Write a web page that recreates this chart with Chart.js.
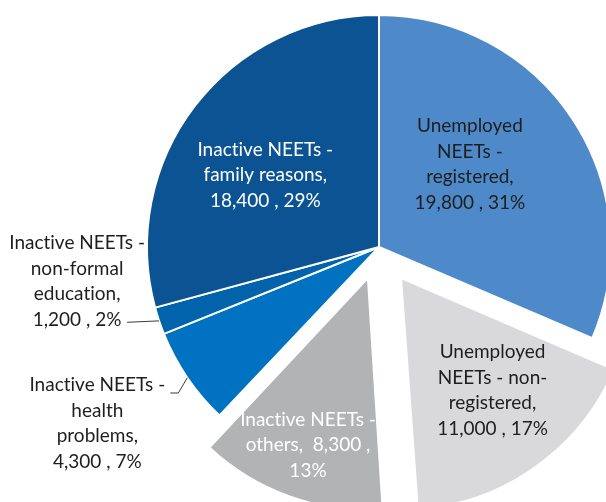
<!DOCTYPE html>
<html>
<head>
<meta charset="utf-8">
<title>NEETs by status</title>
<script src="https://cdn.jsdelivr.net/npm/chart.js@4/dist/chart.umd.min.js"></script>
<style>
  html, body { margin: 0; padding: 0; background: #ffffff; overflow: hidden; }
  #wrap { position: relative; width: 606px; height: 502px; }
</style>
</head>
<body>
<div id="wrap"><canvas id="pie" width="606" height="502"></canvas></div>
<script>
// NEETs by labour-market status (people)
const categories = [
  'Unemployed NEETs - registered',
  'Unemployed NEETs - non-registered',
  'Inactive NEETs - others',
  'Inactive NEETs - health problems',
  'Inactive NEETs - non-formal education',
  'Inactive NEETs - family reasons'
];
const values = [19800, 11000, 8300, 4300, 1200, 18400];

// Slice fills
const colors = ['#4E8AC9', '#D9D9DB', '#B2B3B5', '#0072C1', '#0063AC', '#0C5394'];
// Slices pulled out of the pie (px)
const explode = [0, 38, 33, 0, 0, 0];

// Wrapped label text; {v} = value, {p} = share of total
const labelTemplates = [
  'Unemployed|NEETs -|registered,|{v} , {p}',
  'Unemployed|NEETs - non-|registered,|{v} , {p}',
  'Inactive NEETs -|others,  {v} ,|{p}',
  'Inactive NEETs -|health|problems,|{v} , {p}',
  'Inactive NEETs -|non-formal|education,|{v} , {p}',
  'Inactive NEETs -|family reasons,|{v} , {p}'
];

const total = values.reduce((a, b) => a + b, 0);
const fmt = v => v.toLocaleString('en-US');
const pct = v => Math.round(v / total * 100) + '%';

const RADIUS = 232;
const FONT = '19px Lato';
const LINE_H = 25.5;

// Label placement per slice: inside labels use polar position relative to the slice,
// outside labels hang off the outer arc with a leader line.
const placement = [
  { da: -8.9, rf: 0.53, color: '#1e1e1e' },
  { da: -3.7, rf: 0.625, color: '#1e1e1e' },
  { da: 0.0, rf: 0.765, color: '#ffffff' },
  { outside: true, dx: -90, dy: 45.5, leader: [[-9, 15.3], [-17, 15.3]], color: '#1e1e1e' },
  { outside: true, dx: -82, dy: -39.5, leader: [[-32, 1.4]], color: '#1e1e1e' },
  { da: -5.1, rf: 0.58, color: '#ffffff' }
];

// Keep exploded slices at the same radius as the rest of the pie
const keepRadius = {
  id: 'keepRadius',
  afterDatasetsUpdate(chart) {
    const meta = chart.getDatasetMeta(0);
    meta.data.forEach((arc, i) => {
      const circ = arc.endAngle - arc.startAngle;
      const fix = 1 - Math.sin(Math.min(Math.PI, circ));
      arc.outerRadius = RADIUS - explode[i] * fix;
    });
  }
};

const sliceLabels = {
  id: 'sliceLabels',
  afterDatasetsDraw(chart) {
    const ctx = chart.ctx;
    const meta = chart.getDatasetMeta(0);
    ctx.save();
    ctx.font = FONT;
    ctx.textRendering = 'optimizeSpeed';
    ctx.textAlign = 'center';
    ctx.textBaseline = 'middle';
    meta.data.forEach((arc, i) => {
      const p = placement[i];
      const mid = (arc.startAngle + arc.endAngle) / 2;
      const ox = arc.x + Math.cos(mid) * explode[i];
      const oy = arc.y + Math.sin(mid) * explode[i];
      let cx, cy;
      if (p.outside) {
        const ex = ox + Math.cos(mid) * RADIUS;
        const ey = oy + Math.sin(mid) * RADIUS;
        ctx.strokeStyle = '#3a3a3a';
        ctx.lineWidth = 1;
        ctx.beginPath();
        ctx.moveTo(ex, ey);
        p.leader.forEach(([lx, ly]) => ctx.lineTo(ex + lx, ey + ly));
        ctx.stroke();
        cx = ex + p.dx;
        cy = ey + p.dy;
      } else {
        const a = mid + p.da * Math.PI / 180;
        cx = ox + Math.cos(a) * RADIUS * p.rf;
        cy = oy + Math.sin(a) * RADIUS * p.rf;
      }
      const lines = labelTemplates[i]
        .replace('{v}', fmt(values[i]))
        .replace('{p}', pct(values[i]))
        .split('|');
      ctx.fillStyle = p.color;
      const top = cy - (lines.length - 1) * LINE_H / 2;
      lines.forEach((t, k) => ctx.fillText(t, cx, top + k * LINE_H));
    });
    ctx.restore();
  }
};

new Chart(document.getElementById('pie'), {
  type: 'pie',
  data: {
    labels: categories,
    datasets: [{
      data: values,
      backgroundColor: colors,
      borderColor: '#ffffff',
      borderWidth: 2,
      offset: explode.map(e => e * 4),
      clip: false
    }]
  },
  options: {
    responsive: false,
    devicePixelRatio: 1,
    animation: false,
    radius: RADIUS,
    layout: { padding: { left: 152, right: 0, top: 0, bottom: 8 } },
    plugins: {
      legend: { display: false },
      tooltip: { enabled: false }
    }
  },
  plugins: [keepRadius, sliceLabels]
});
</script>
</body>
</html>
